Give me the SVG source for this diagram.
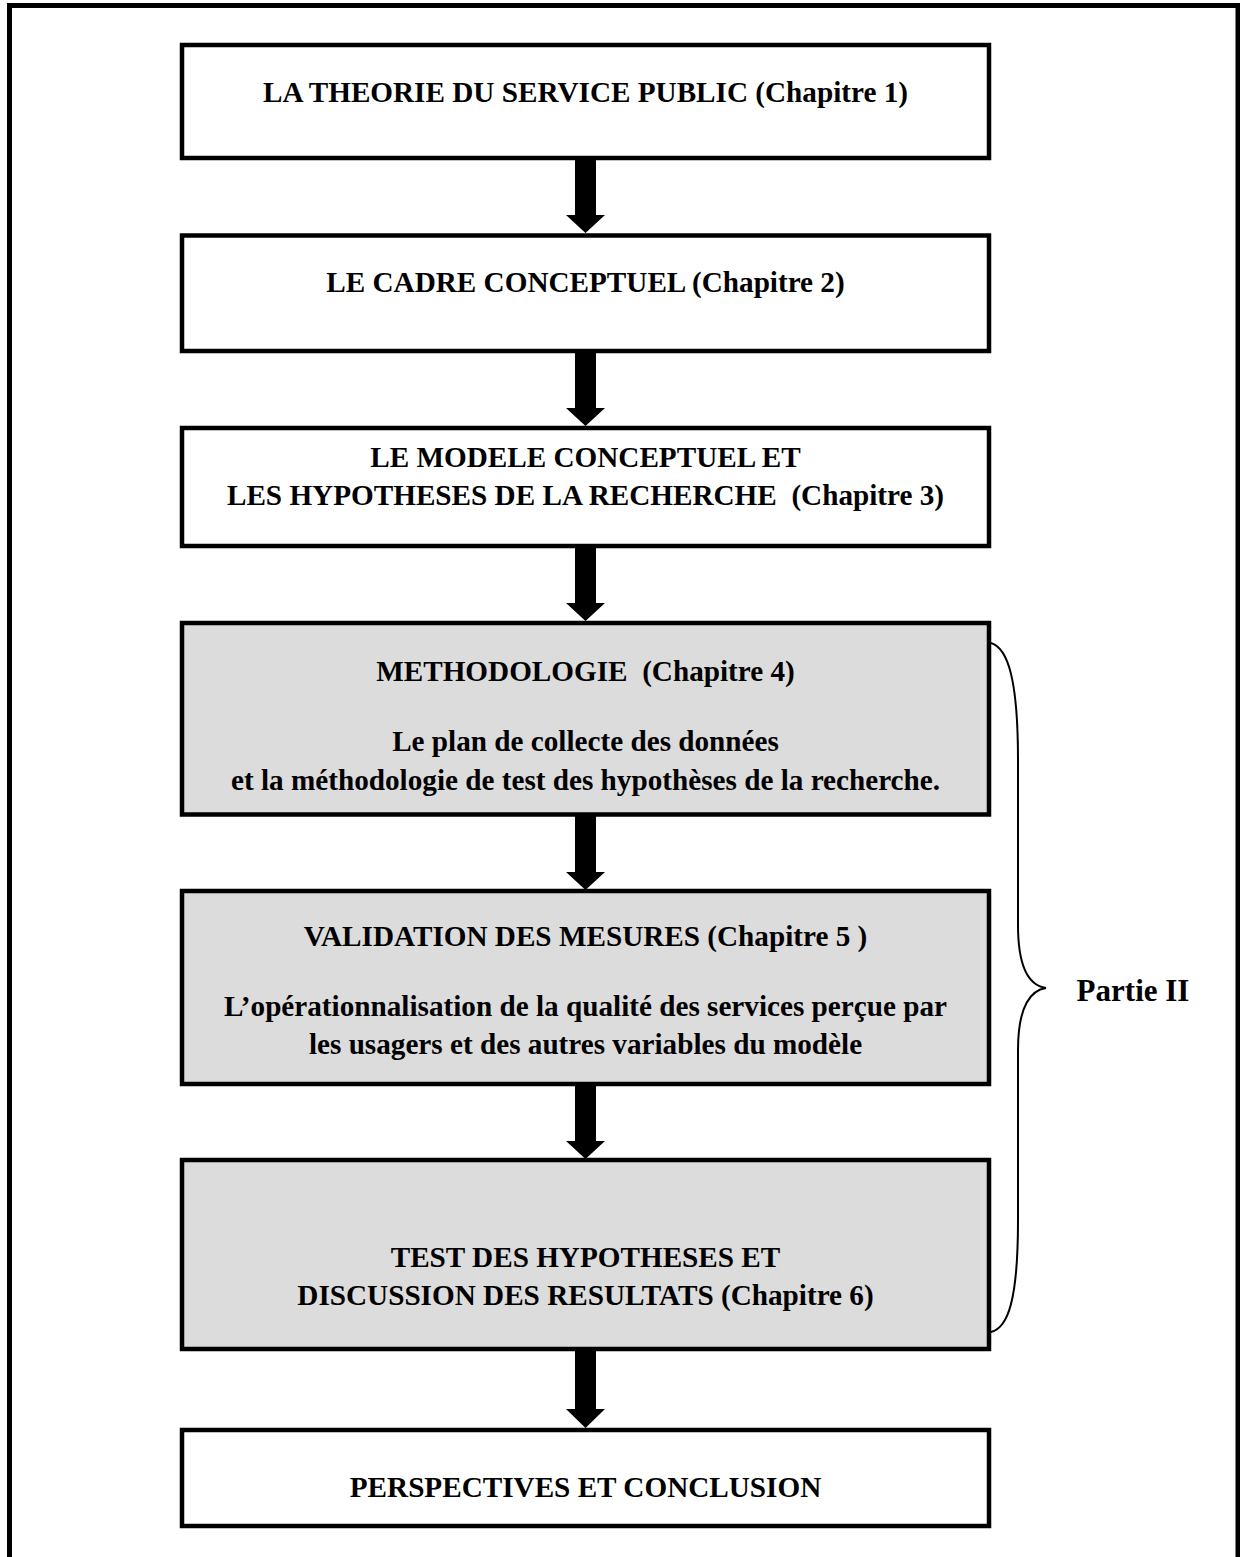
<svg xmlns="http://www.w3.org/2000/svg" width="1240" height="1557" viewBox="0 0 1240 1557">
<style>
.box{stroke:#000;stroke-width:4.5;fill:#fff}
.gray{fill:#dcdcdc}
.t{font-family:"Liberation Serif","Times New Roman",serif;font-weight:bold;font-size:29.2px;text-anchor:middle;fill:#000}
.arr{fill:#000}
</style>
<rect x="0" y="0" width="1240" height="1557" fill="#fff"/>
<rect x="9.5" y="5.5" width="1228.5" height="1600" fill="none" stroke="#000" stroke-width="5"/>
<g id="n1"><rect class="box" x="182" y="45" width="807" height="113"/><text class="t" x="585.5" y="102">LA THEORIE DU SERVICE PUBLIC (Chapitre 1)</text></g>
<g id="n2"><rect class="box" x="182" y="235.5" width="807" height="115.5"/><text class="t" x="585.5" y="292">LE CADRE CONCEPTUEL (Chapitre 2)</text></g>
<g id="n3"><rect class="box" x="182" y="428" width="807" height="118"/><text class="t" x="585.5" y="467">LE MODELE CONCEPTUEL ET</text><text class="t" x="585.5" y="505" xml:space="preserve">LES HYPOTHESES DE LA RECHERCHE  (Chapitre 3)</text></g>
<g id="n4"><rect class="box gray" x="182" y="623" width="807" height="191.5"/><text class="t" x="585.5" y="681" xml:space="preserve">METHODOLOGIE  (Chapitre 4)</text><text class="t" x="585.5" y="751">Le plan de collecte des données</text><text class="t" x="585.5" y="790">et la méthodologie de test des hypothèses de la recherche.</text></g>
<g id="n5"><rect class="box gray" x="182" y="891" width="807" height="193"/><text class="t" x="585.5" y="946">VALIDATION DES MESURES (Chapitre 5 )</text><text class="t" x="585.5" y="1016">L’opérationnalisation de la qualité des services perçue par</text><text class="t" x="585.5" y="1054">les usagers et des autres variables du modèle</text></g>
<g id="n6"><rect class="box gray" x="182" y="1160" width="807" height="189"/><text class="t" x="585.5" y="1267">TEST DES HYPOTHESES ET</text><text class="t" x="585.5" y="1305">DISCUSSION DES RESULTATS (Chapitre 6)</text></g>
<g id="n7"><rect class="box" x="182" y="1430" width="807" height="96"/><text class="t" x="585.5" y="1497">PERSPECTIVES ET CONCLUSION</text></g>
<g id="brace"><path d="M991 643 C1008 648 1018 680 1018 760 L1018 925 C1018 972 1032 986 1046 988 C1032 990 1018 1004 1018 1050 L1018 1220 C1018 1300 1008 1328 991 1332" fill="none" stroke="#000" stroke-width="2"/><text class="t" x="1133" y="1001" style="font-size:31px">Partie II</text></g>
<g id="connectors">
<polygon class="arr" points="575,158 596,158 596,215 605,215 585.5,233 566,215 575,215"/>
<polygon class="arr" points="575,351 596,351 596,408 605,408 585.5,426 566,408 575,408"/>
<polygon class="arr" points="575,546 596,546 596,603 605,603 585.5,621 566,603 575,603"/>
<polygon class="arr" points="575,814 596,814 596,872 605,872 585.5,890 566,872 575,872"/>
<polygon class="arr" points="575,1084 596,1084 596,1141 605,1141 585.5,1159 566,1141 575,1141"/>
<polygon class="arr" points="575,1349 596,1349 596,1409 605,1409 585.5,1428 566,1409 575,1409"/>
</g>
</svg>
